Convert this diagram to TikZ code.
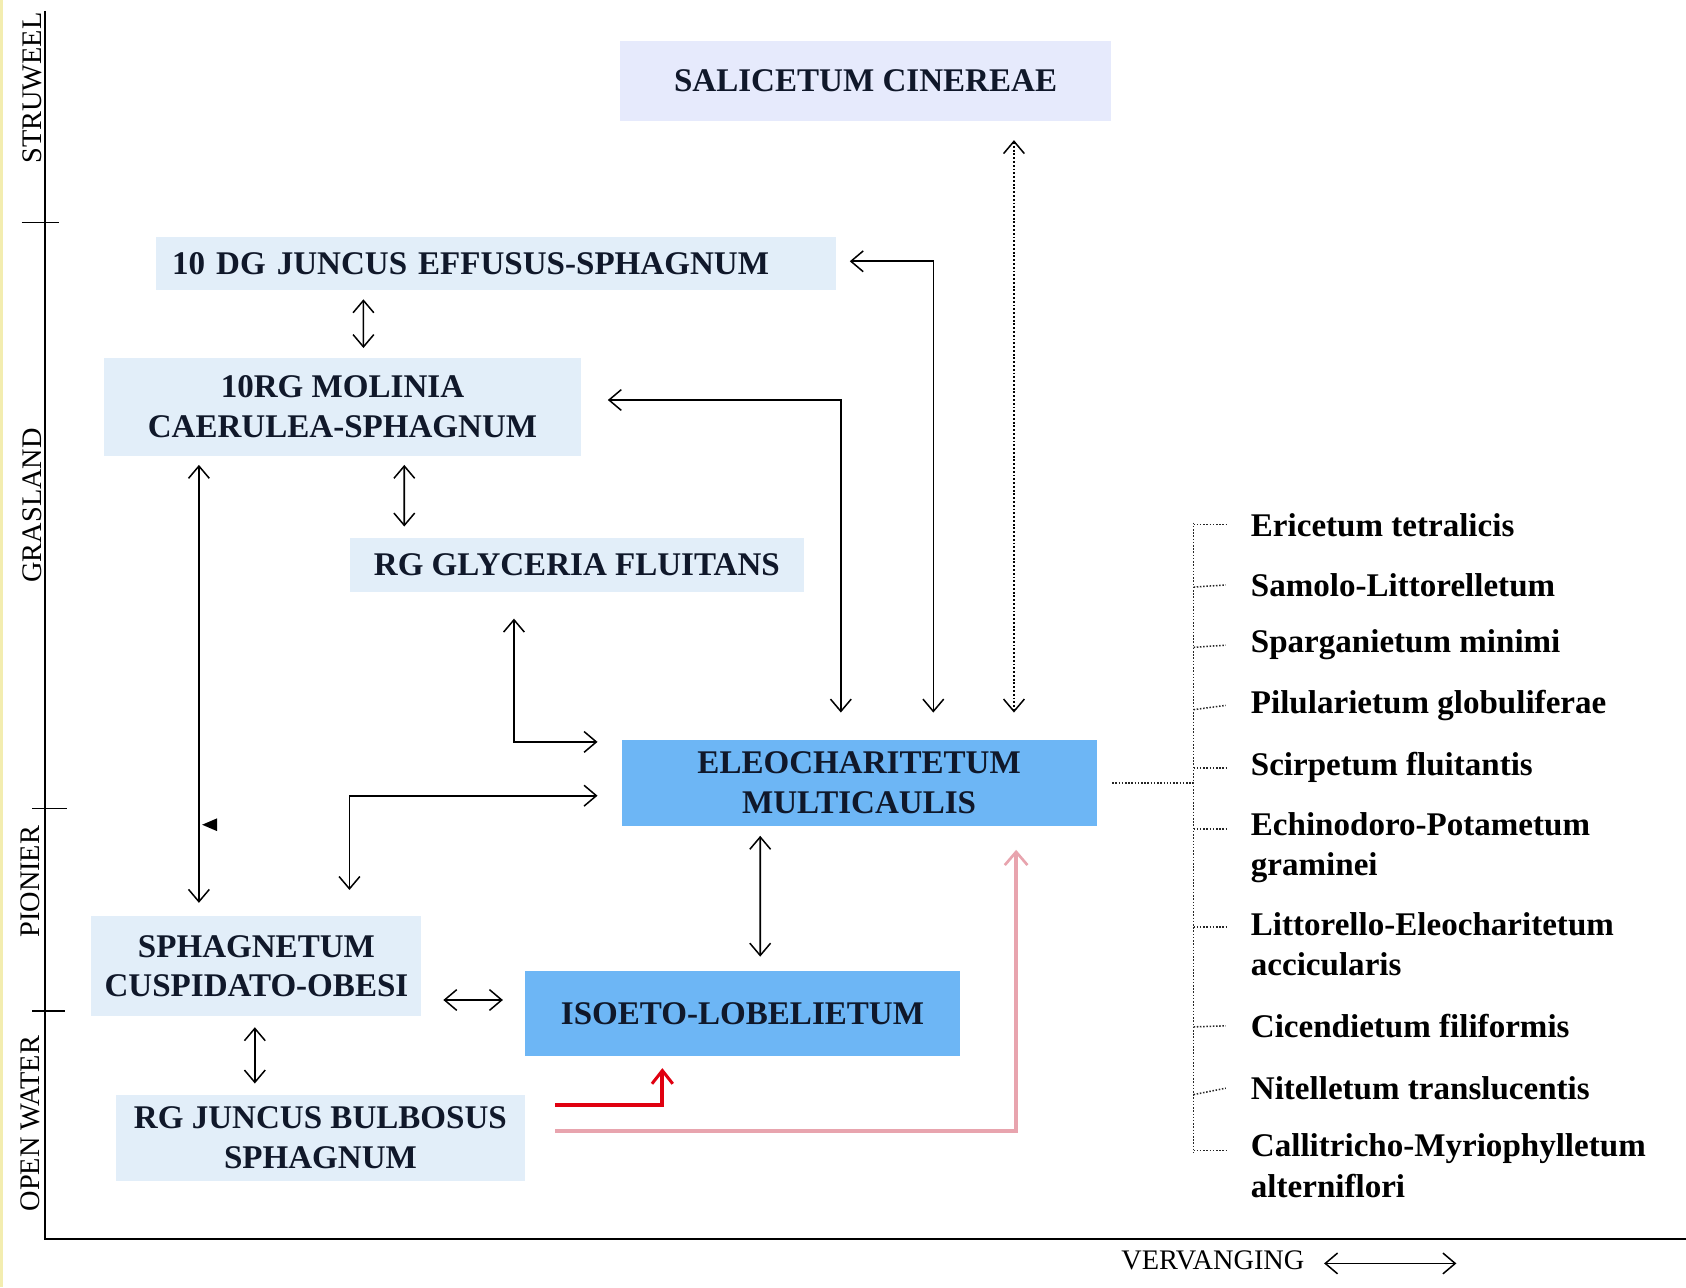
\documentclass[tikz,border=0pt]{standalone}
\usepackage{fontspec}
\setmainfont{Liberation Serif}
\usetikzlibrary{arrows.meta,calc}
\definecolor{boxlav}{HTML}{E6EAFC}
\definecolor{boxlt}{HTML}{E2EEF9}
\definecolor{boxmid}{HTML}{6DB6F5}
\definecolor{inktxt}{HTML}{10182A}
\definecolor{redarr}{HTML}{E00010}
\definecolor{pinkarr}{HTML}{E8A4AE}
\definecolor{edgeyel}{HTML}{F3EDB0}
\tikzset{
  bx/.style={fill=#1, draw=none, inner sep=0pt, align=center, text=inktxt,
    font=\fontsize{17.5}{21}\selectfont\bfseries},
  lst/.style={anchor=west, align=left, inner sep=0pt, text=black,
    font=\fontsize{17.5}{21.5}\selectfont\bfseries},
  axl/.style={rotate=90, inner sep=0pt, font=\fontsize{15}{18}\selectfont},
  tipb/.tip={Straight Barb[length=6.5pt,width=11pt,line width=0.8pt]},
  biarr/.style={{tipb}-{tipb}, line width=0.85pt, black},
  dotl/.style={dash pattern=on 0.8pt off 0.9pt, line width=0.8pt, black!85}
}
\begin{document}
\begin{tikzpicture}[x=0.02cm,y=-0.02cm]
\useasboundingbox (0,0) rectangle (1568,1197);
\fill[white] (0,0) rectangle (1568,1197);
\fill[edgeyel] (0,0) rectangle (3,1197);

% axes
\draw[line width=1pt] (42,10) -- (42,1152) -- (1568,1152);
\draw[line width=0.8pt] (20,207) -- (55,207);
\draw[line width=0.8pt] (30,752) -- (62,752);
\draw[line width=0.8pt] (30,940) -- (60,940);
\node[axl] (struweel) at (30,82) {STRUWEEL};
\node[axl] (grasland) at (30,470) {GRASLAND};
\node[axl] (pionier) at (28,820) {PIONIER};
\node[axl] (openw) at (28,1045) {OPEN WATER};

% boxes
\node[bx=boxlav, minimum width=9.12cm, minimum height=1.5cm] (sal) at (805,75.5) {SALICETUM CINEREAE};
\node[bx=boxlt, minimum width=12.66cm, minimum height=1.0cm, text width=12.06cm, align=left, inner xsep=0.3cm] (dg) at (461.5,245) {10 DG JUNCUS EFFUSUS-SPHAGNUM};
\node[bx=boxlt, minimum width=8.86cm, minimum height=1.82cm] (mol) at (318.5,378.5) {10RG MOLINIA\\CAERULEA-SPHAGNUM};
\node[bx=boxlt, minimum width=8.46cm, minimum height=1.02cm] (gly) at (536.5,525.5) {RG GLYCERIA FLUITANS};
\node[bx=boxmid, minimum width=8.84cm, minimum height=1.6cm] (eleo) at (799,728) {ELEOCHARITETUM\\MULTICAULIS};
\node[bx=boxmid, minimum width=8.1cm, minimum height=1.58cm] (iso) at (690.5,942.5) {ISOETO-LOBELIETUM};
\node[bx=boxlt, minimum width=6.14cm, minimum height=1.86cm] (sph) at (238.5,898.5) {SPHAGNETUM\\CUSPIDATO-OBESI};
\node[bx=boxlt, minimum width=7.6cm, minimum height=1.6cm] (rgj) at (298,1058) {RG JUNCUS BULBOSUS\\SPHAGNUM};

% connectors
\draw[biarr] ($(dg.south)+(-123.5,8)$) -- ($(mol.north)+(19.5,-9)$);
\draw[biarr] ($(mol.south)+(57.5,8)$) -- ($(gly.north)+(-160.5,-10)$);
\draw[biarr] ($(dg.east)+(12,-2)$) -| ($(eleo.north)+(69,-25)$);
\draw[biarr] ($(mol.east)+(25,-6.5)$) -| ($(eleo.north)+(-17,-25)$);
\draw[biarr, dash pattern=on 1pt off 1pt, line width=1.2pt] ($(sal.south)+(138,17)$) -- ($(eleo.north)+(144,-25)$);
\draw[biarr] ($(gly.south)+(-58.5,24)$) |- ($(eleo.west)+(-22,-38)$);
\draw[biarr] ($(sph.north)+(86.5,-24)$) |- ($(eleo.west)+(-22,12)$);
\draw[biarr] ($(mol.south)+(-133.5,8)$) -- ($(sph.north)+(-53.5,-12)$);
\fill[black] (188,767) -- (202,761) -- (202,773) -- cycle;
\draw[biarr] ($(eleo.south)+(-92,9)$) -- ($(iso.north)+(16.5,-13)$);
\draw[biarr] ($(sph.east)+(20,31.5)$) -- ($(iso.west)+(-20,-12.5)$);
\draw[biarr] ($(sph.south)+(-1.5,10)$) -- ($(rgj.north)+(-61,-10)$);
\draw[redarr, line width=2.2pt, -{Straight Barb[length=7pt,width=11pt,line width=1.6pt]}]
  ($(rgj.east)+(28,-30)$) -| ($(iso.south)+(-74.5,11)$);
\draw[pinkarr, line width=1.8pt, -{Straight Barb[length=7pt,width=12pt,line width=1.4pt]}]
  ($(rgj.east)+(28,-6)$) -| ($(eleo.south)+(146,22)$);

% list
\node[lst] (l1) at (1163,488) {Ericetum tetralicis};
\node[lst] (l2) at (1163,544) {Samolo-Littorelletum};
\node[lst] (l3) at (1163,600) {Sparganietum minimi};
\node[lst] (l4) at (1163,656) {Pilularietum globuliferae};
\node[lst] (l5) at (1163,714) {Scirpetum fluitantis};
\node[lst, anchor=north west] (l6) at (1163,755) {Echinodoro-Potametum\\graminei};
\node[lst, anchor=north west] (l7) at (1163,848) {Littorello-Eleocharitetum\\accicularis};
\node[lst] (l8) at (1163,954) {Cicendietum filiformis};
\node[lst] (l9) at (1163,1012) {Nitelletum translucentis};
\node[lst, anchor=north west] (l10) at (1163,1054) {Callitricho-Myriophylletum\\alterniflori};

\coordinate (brtop) at (1110,486);
\coordinate (brbot) at (1110,1072);
\draw[dotl] ($(eleo.east)+(14,0)$) -- (1110,728);
\draw[dotl] (brtop) -- (brbot);
\foreach \n/\yy in {l1/488,l2/546,l3/602,l4/660,l5/714,l8/955,l9/1018}
  \draw[dotl] (1110,\yy) -- ($(\n.west)+(-23,0)$);
\draw[dotl] (1110,771) -- ($(l6.north west)+(-23,16)$);
\draw[dotl] (1110,862) -- ($(l7.north west)+(-23,14)$);
\draw[dotl] (1110,1070) -- ($(l10.north west)+(-23,16)$);

% bottom label
\node[inner sep=0pt, font=\fontsize{15}{18}\selectfont] (verv) at (1128,1172) {VERVANGING};
\draw[biarr, line width=0.9pt] ($(verv.east)+(18,3)$) -- ($(verv.east)+(141,3)$);
\end{tikzpicture}
\end{document}
